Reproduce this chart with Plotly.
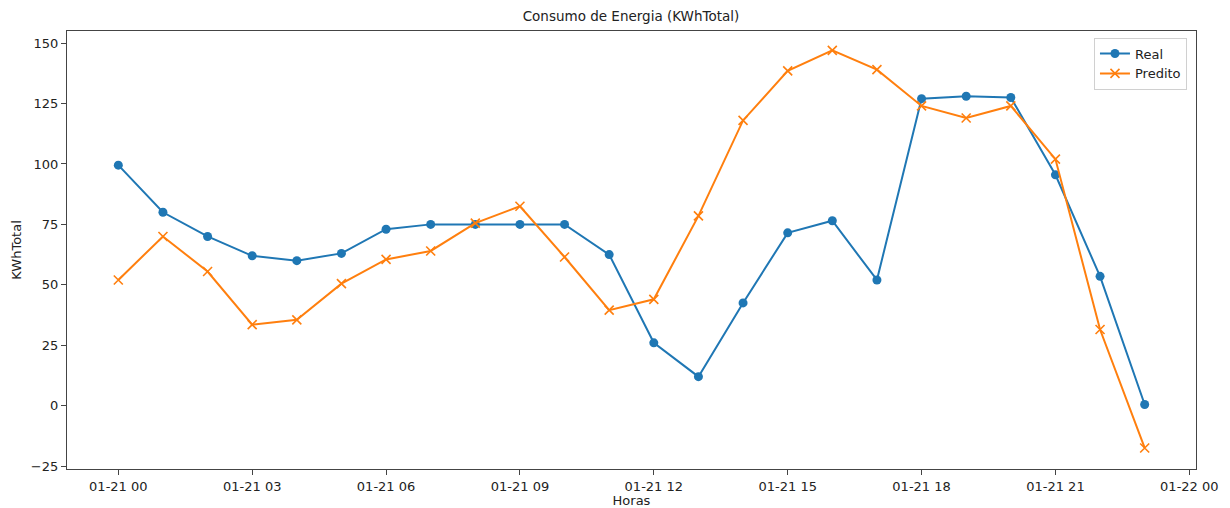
import pandas as pd
import plotly.graph_objects as go

# Hourly timestamps for 21 January
horas = pd.date_range("2021-01-21 00:00", periods=24, freq="h")

real = [99.5, 80, 70, 62, 60, 63, 73, 75, 75, 75, 75, 62.5,
        26, 12, 42.5, 71.5, 76.5, 52, 127, 128, 127.5, 95.5, 53.5, 0.5]
predito = [52, 70, 55.5, 33.5, 35.5, 50.5, 60.5, 64, 75.5, 82.5, 61.5, 39.5,
           44, 78.5, 118, 138.5, 147, 139, 124, 119, 124, 102, 31.5, -17.5]

tick_times = pd.date_range("2021-01-21 00:00", "2021-01-22 00:00", freq="3h")
tick_text = [t.strftime("%m-%d %H") for t in tick_times]
y_ticks = [-25, 0, 25, 50, 75, 100, 125, 150]

FONT = "DejaVu Sans"
AXIS_COLOR = "#444444"

fig = go.Figure()
fig.add_trace(go.Scatter(
    x=horas, y=real, name="Real", mode="lines+markers",
    line=dict(color="#1f77b4", width=2),
    marker=dict(symbol="circle", size=9, color="#1f77b4"),
))
fig.add_trace(go.Scatter(
    x=horas, y=predito, name="Predito", mode="lines+markers",
    line=dict(color="#ff7f0e", width=2),
    marker=dict(symbol="x-thin-open", size=9,
                line=dict(color="#ff7f0e", width=1.6)),
))

pad = pd.Timedelta(hours=23 * 0.05)
fig.update_layout(
    width=1230, height=508,
    margin=dict(l=67, r=34, t=31, b=39),
    paper_bgcolor="white", plot_bgcolor="white",
    font=dict(family=FONT, size=13, color="#222222"),
    title=dict(text="Consumo de Energia (KWhTotal)", x=0.513, xanchor="center",
               y=1 - 16 / 508, yanchor="middle",
               font=dict(family=FONT, size=13.5, color="#222222")),
    showlegend=True,
    legend=dict(x=0.992, y=0.985, xanchor="right", yanchor="top",
                bgcolor="rgba(255,255,255,0.9)", bordercolor="#d0d0d0",
                borderwidth=1, font=dict(size=13)),
)
fig.update_xaxes(
    range=[horas[0] - pad, horas[-1] + pad],
    tickvals=tick_times, ticktext=tick_text,
    showgrid=False, zeroline=False, automargin=False,
    showline=True, mirror=True, linecolor=AXIS_COLOR, linewidth=1.3,
    ticks="outside", ticklen=5, tickcolor=AXIS_COLOR,
    title=dict(text="Horas", standoff=2, font=dict(size=13)),
)
fig.update_yaxes(
    range=[-26.2, 155.0],
    tickvals=y_ticks,
    showgrid=False, zeroline=False, automargin=False,
    showline=True, mirror=True, linecolor=AXIS_COLOR, linewidth=1.3,
    ticks="outside", ticklen=5, tickcolor=AXIS_COLOR,
    title=dict(text="KWhTotal", standoff=6, font=dict(size=13)),
)

fig.write_html("out.html")
